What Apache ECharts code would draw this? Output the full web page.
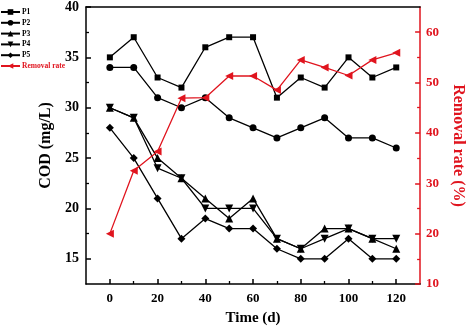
<!DOCTYPE html>
<html>
<head>
<meta charset="utf-8">
<script src="https://cdn.jsdelivr.net/npm/echarts@6/dist/echarts.min.js"></script>
<style>html,body{margin:0;padding:0;background:#fff}#c{width:474px;height:331px}</style>
</head>
<body>
<div id="c"></div>
<script>
var days = [0, 10, 20, 30, 40, 50, 60, 70, 80, 90, 100, 110, 120];
var P1 = [35, 37, 33, 32, 36, 37, 37, 31, 33, 32, 35, 33, 34];
var P2 = [34, 34, 31, 30, 31, 29, 28, 27, 28, 29, 27, 27, 26];
var P3 = [30, 29, 25, 23, 21, 19, 21, 17, 16, 18, 18, 17, 16];
var P4 = [30, 29, 24, 23, 20, 20, 20, 17, 16, 17, 18, 17, 17];
var P5 = [28, 25, 21, 17, 19, 18, 18, 16, 15, 15, 17, 15, 15];
var removal = [20, 32.5, 36.3, 46.9, 47.0, 51.3, 51.3, 48.5, 54.5, 53.0, 51.4, 54.5, 55.9];
var xTickLabels = [0, 20, 40, 60, 80, 100, 120];
var xMinorTicks = [10, 30, 50, 70, 90, 110];
var yLeftLabels = [15, 20, 25, 30, 35, 40];
var yLeftMinor = [17.5, 22.5, 27.5, 32.5, 37.5];
var yRightLabels = [10, 20, 30, 40, 50, 60];
var yRightMinor = [15, 25, 35, 45, 55];

var RED = '#e0141e';
var FONT = 'Liberation Serif';
function pairs(a){ return days.map(function(d,i){ return [d, a[i]]; }); }
function blackSeries(name, data, symbol, size, rot){
  return {name:name, type:'line', xAxisIndex:0, yAxisIndex:0, data:pairs(data),
    symbol:symbol, symbolSize:size, symbolRotate:rot||0,
    lineStyle:{color:'#000', width:1.3}, itemStyle:{color:'#000'}, animation:false};
}
var chart = echarts.init(document.getElementById('c'));
chart.setOption({
  animation:false,
  grid:{left:86, right:37, top:5, bottom:43},
  legend:{orient:'vertical', left:0, top:8, padding:0, itemWidth:19, itemHeight:7, itemGap:2.8,
    textStyle:{fontFamily:FONT, fontWeight:'bold', fontSize:7.5, color:'#000', padding:[0,0,0,-3]},
    data:['P1','P2','P3','P4','P5',{name:'Removal rate', textStyle:{color:RED}}]},
  xAxis:[
    {type:'value', position:'bottom', min:-10, max:130, interval:10,
     axisLine:{show:true, onZero:false, lineStyle:{color:'#000', width:1.5}},
     axisTick:{show:true, inside:true, length:5, customValues:xTickLabels, lineStyle:{color:'#000', width:1.5}},
     axisLabel:{customValues:xTickLabels, color:'#000', fontFamily:FONT, fontWeight:'bold', fontSize:13, margin:8},
     splitLine:{show:false},
     name:'Time (d)', nameLocation:'middle', nameGap:27,
     nameTextStyle:{fontFamily:FONT, fontWeight:'bold', fontSize:15, color:'#000'}},
    {type:'value', position:'bottom', min:-10, max:130, interval:10,
     axisLine:{show:false, onZero:false},
     axisTick:{show:true, inside:true, length:3, customValues:xMinorTicks, lineStyle:{color:'#000', width:1.3}},
     axisLabel:{show:false}, splitLine:{show:false}},
    {type:'value', position:'top', min:-10, max:130,
     axisLine:{show:true, onZero:false, lineStyle:{color:'#000', width:1.5}},
     axisTick:{show:false}, axisLabel:{show:false}, splitLine:{show:false}}
  ],
  yAxis:[
    {type:'value', position:'left', min:12.5, max:40, interval:2.5,
     axisLine:{show:true, onZero:false, lineStyle:{color:'#000', width:1.5}},
     axisTick:{show:true, inside:true, length:5, customValues:yLeftLabels, lineStyle:{color:'#000', width:1.5}},
     axisLabel:{customValues:yLeftLabels, color:'#000', fontFamily:FONT, fontWeight:'bold', fontSize:14, margin:7},
     splitLine:{show:false},
     name:'COD (mg/L)', nameLocation:'middle', nameGap:30, nameRotate:90,
     nameTextStyle:{fontFamily:FONT, fontWeight:'bold', fontSize:16, color:'#000'}},
    {type:'value', position:'left', min:12.5, max:40, interval:2.5,
     axisLine:{show:false, onZero:false},
     axisTick:{show:true, inside:true, length:3, customValues:yLeftMinor, lineStyle:{color:'#000', width:1.3}},
     axisLabel:{show:false}, splitLine:{show:false}},
    {type:'value', position:'right', min:10, max:65, interval:5,
     axisLine:{show:true, onZero:false, lineStyle:{color:RED, width:1.5}},
     axisTick:{show:true, inside:true, length:5, customValues:yRightLabels, lineStyle:{color:RED, width:1.5}},
     axisLabel:{customValues:yRightLabels, color:RED, fontFamily:FONT, fontWeight:'bold', fontSize:13, margin:6},
     splitLine:{show:false},
     name:'Removal rate (%)', nameLocation:'middle', nameGap:20, nameRotate:-90,
     nameTextStyle:{fontFamily:FONT, fontWeight:'bold', fontSize:16, color:RED}},
    {type:'value', position:'right', min:10, max:65, interval:5,
     axisLine:{show:false, onZero:false},
     axisTick:{show:true, inside:true, length:3, customValues:yRightMinor, lineStyle:{color:RED, width:1.3}},
     axisLabel:{show:false}, splitLine:{show:false}}
  ],
  series:[
    blackSeries('P1', P1, 'rect', 6),
    blackSeries('P2', P2, 'circle', 7),
    blackSeries('P3', P3, 'triangle', 8),
    blackSeries('P4', P4, 'triangle', 8, 180),
    blackSeries('P5', P5, 'diamond', 8),
    {name:'Removal rate', type:'line', xAxisIndex:0, yAxisIndex:2, data:pairs(removal),
     symbol:'triangle', symbolSize:8, symbolRotate:90,
     lineStyle:{color:RED, width:1.3}, itemStyle:{color:RED}, z:5}
  ]
});
</script>
</body>
</html>
